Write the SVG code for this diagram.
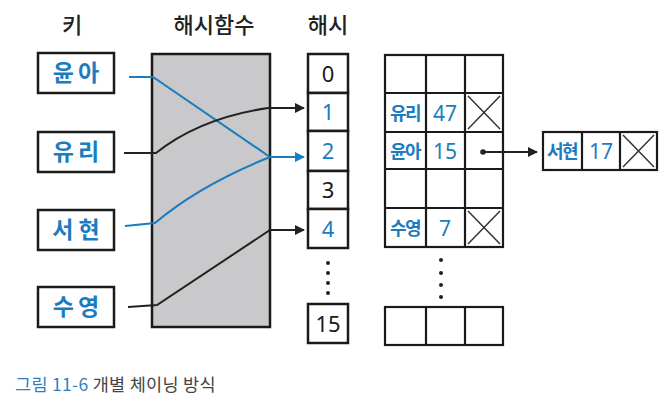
<svg xmlns="http://www.w3.org/2000/svg" width="665" height="402" viewBox="0 0 665 402">
<defs>
<marker id="ahk" markerWidth="10" markerHeight="10" refX="9" refY="5" orient="auto" markerUnits="userSpaceOnUse">
<path d="M0,0 L10,5 L0,10 Z" fill="#222"/>
</marker>
<marker id="ahb" markerWidth="10" markerHeight="10" refX="9" refY="5" orient="auto" markerUnits="userSpaceOnUse">
<path d="M0,0 L10,5 L0,10 Z" fill="#1b7cc0"/>
</marker>
</defs>
<style>
.box{fill:#fff;stroke:#1a1a1a;stroke-width:2.5}
.cell{fill:none;stroke:#1a1a1a;stroke-width:2.2}
.title{font-family:"Noto Sans CJK KR","Noto Sans",sans-serif;font-size:22px;font-weight:500;fill:#222;text-anchor:middle}
.key{font-family:"Noto Sans CJK KR","Noto Sans",sans-serif;font-size:23px;font-weight:600;fill:#1b7cc0;text-anchor:middle;letter-spacing:4px}
.num{font-family:"Noto Sans","DejaVu Sans",sans-serif;font-size:22px;text-anchor:middle}
.blue{fill:#1b7cc0}
.blk{fill:#1a1a1a}
.tk{font-family:"Noto Sans CJK KR","Noto Sans",sans-serif;font-size:18px;font-weight:700;fill:#1b7cc0;text-anchor:middle;letter-spacing:-1.5px}
.tn{font-family:"Noto Sans","DejaVu Sans",sans-serif;font-size:21px;fill:#1b7cc0;text-anchor:middle}
.lk{fill:none;stroke:#222;stroke-width:2}
.lb{fill:none;stroke:#1b7cc0;stroke-width:2}
.x{stroke:#333;stroke-width:1.5}
.dot{fill:#222}
.cap{font-family:"Noto Sans CJK KR","Noto Sans",sans-serif;font-size:17.5px;letter-spacing:0.3px}
</style>

<g id="titles">
<text class="title" x="72" y="33">키</text>
<text class="title" x="214" y="33">해시함수</text>
<text class="title" x="328" y="33">해시</text>
</g>

<g id="hashfn"><rect x="152" y="54" width="118" height="273" fill="#c9c9cb" stroke="#1a1a1a" stroke-width="2.5"/></g>

<g id="connectors">
<path class="lb" d="M129,77 L153,77 L270,157 L304,157" marker-end="url(#ahb)"/>
<path class="lb" d="M125,226 L155,223 Q200,185 270,157"/>
<path class="lk" d="M124,153 L156,153 Q200,118 268,108 L304,108" marker-end="url(#ahk)"/>
<path class="lk" d="M128,307 L157,305 L270,230 L304,230" marker-end="url(#ahk)"/>
<circle class="dot" cx="483" cy="152" r="2.8"/>
<path class="lk" d="M483,152 L537,152" marker-end="url(#ahk)"/>
</g>

<g id="key-yuna"><rect class="box" x="38" y="53" width="76" height="40"/><text class="key" x="78" y="81">윤아</text></g>
<g id="key-yuri"><rect class="box" x="38" y="132" width="76" height="40"/><text class="key" x="78" y="160">유리</text></g>
<g id="key-seohyun"><rect class="box" x="38" y="210" width="76" height="40"/><text class="key" x="76" y="238" style="letter-spacing:0">서 현</text></g>
<g id="key-sooyoung"><rect class="box" x="38" y="287" width="76" height="40"/><text class="key" x="78" y="315">수영</text></g>

<g id="hash">
<rect class="box" x="308" y="54" width="40" height="39"/>
<rect class="box" x="308" y="93" width="40" height="38"/>
<rect class="box" x="308" y="131" width="40" height="40"/>
<rect class="box" x="308" y="171" width="40" height="38"/>
<rect class="box" x="308" y="209" width="40" height="39"/>
<text class="num blk" x="328" y="82">0</text>
<text class="num blue" x="328" y="120">1</text>
<text class="num blue" x="328" y="159">2</text>
<text class="num blk" x="328" y="198">3</text>
<text class="num blue" x="328" y="237">4</text>
<circle class="dot" cx="328" cy="263" r="2"/>
<circle class="dot" cx="328" cy="273" r="2"/>
<circle class="dot" cx="328" cy="283" r="2"/>
<circle class="dot" cx="328" cy="293" r="2"/>
<rect class="box" x="308" y="304" width="40" height="39"/>
<text class="num blk" x="328" y="332">15</text>
</g>

<g id="table">
<rect class="cell" x="385" y="55" width="118" height="192"/>
<path class="cell" d="M426,55 V247 M465,55 V247 M385,93 H503 M385,132 H503 M385,169 H503 M385,208 H503"/>
<text class="tk" x="405" y="120">유리</text>
<text class="tn" x="445" y="121">47</text>
<path class="x" d="M468,96 L500,129 M500,96 L468,129"/>
<text class="tk" x="405" y="158">윤아</text>
<text class="tn" x="445" y="159">15</text>
<text class="tk" x="405" y="235">수영</text>
<text class="tn" x="445" y="236">7</text>
<path class="x" d="M468,211 L500,244 M500,211 L468,244"/>
<circle class="dot" cx="441" cy="260" r="2"/>
<circle class="dot" cx="441" cy="273" r="2"/>
<circle class="dot" cx="441" cy="285" r="2"/>
<circle class="dot" cx="441" cy="297" r="2"/>
<rect class="cell" x="385" y="307" width="118" height="38"/>
<path class="cell" d="M426,307 V345 M465,307 V345"/>
</g>

<g id="node-seohyun">
<rect class="cell" x="543" y="132" width="114" height="38"/>
<path class="cell" d="M582,132 V170 M620,132 V170"/>
<text class="tk" x="562" y="158">서현</text>
<text class="tn" x="601" y="159">17</text>
<path class="x" d="M623,135 L654,167 M654,135 L623,167"/>
</g>

<g id="caption">
<text class="cap" x="15" y="391"><tspan fill="#2f7fc1">그림 11-6</tspan><tspan fill="#444"> 개별 체이닝 방식</tspan></text>
</g>
</svg>
